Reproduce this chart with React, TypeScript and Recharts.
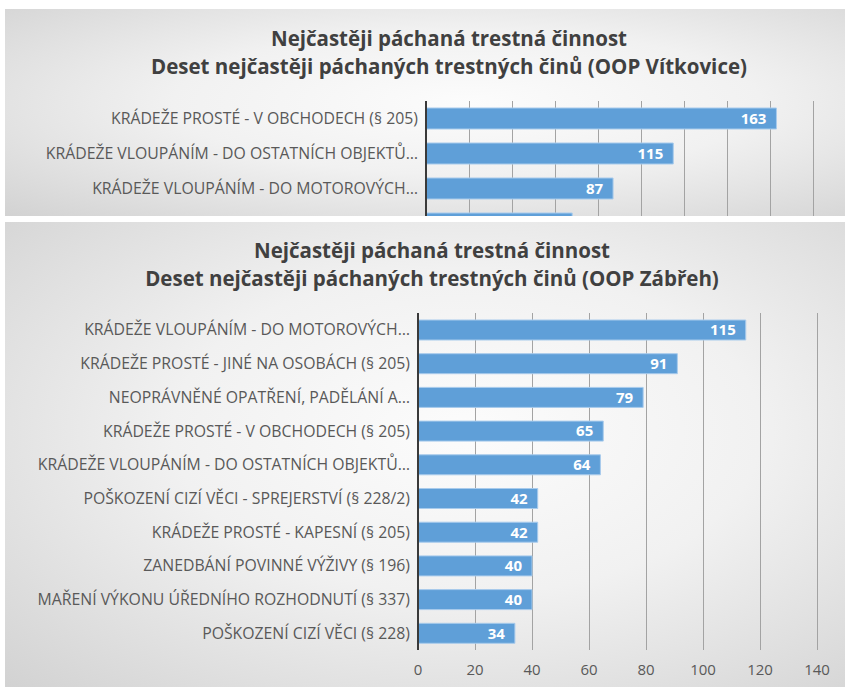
import { BarChart, Bar, XAxis, YAxis, CartesianGrid, LabelList } from 'recharts';

// OOP Vítkovice (panel is cut off after the 4th bar)
const vitkoviceCategories = [
    'KRÁDEŽE PROSTÉ - V OBCHODECH (§ 205)',
    'KRÁDEŽE VLOUPÁNÍM - DO OSTATNÍCH OBJEKTŮ…',
    'KRÁDEŽE VLOUPÁNÍM - DO MOTOROVÝCH…',
    '',
];
const vitkoviceValues = [163, 115, 87, 68];
const vitkoviceTicks = [0, 20, 40, 60, 80, 100, 120, 140, 160, 180];

// OOP Zábřeh
const zabrehCategories = [
    'KRÁDEŽE VLOUPÁNÍM - DO MOTOROVÝCH…',
    'KRÁDEŽE PROSTÉ - JINÉ NA OSOBÁCH (§ 205)',
    'NEOPRÁVNĚNÉ OPATŘENÍ, PADĚLÁNÍ A…',
    'KRÁDEŽE PROSTÉ - V OBCHODECH (§ 205)',
    'KRÁDEŽE VLOUPÁNÍM - DO OSTATNÍCH OBJEKTŮ…',
    'POŠKOZENÍ CIZÍ VĚCI - SPREJERSTVÍ (§ 228/2)',
    'KRÁDEŽE PROSTÉ - KAPESNÍ (§ 205)',
    'ZANEDBÁNÍ POVINNÉ VÝŽIVY (§ 196)',
    'MAŘENÍ VÝKONU ÚŘEDNÍHO ROZHODNUTÍ (§ 337)',
    'POŠKOZENÍ CIZÍ VĚCI (§ 228)',
];
const zabrehValues = [115, 91, 79, 65, 64, 42, 42, 40, 40, 34];
const zabrehTicks = [0, 20, 40, 60, 80, 100, 120, 140];

const FONT = "'Open Sans', sans-serif";
const BAR_FILL = '#5f9fd8';
const GRID = '#a3a3a3';

const panelStyle = {
    position: 'absolute' as const,
    left: 5,
    width: 840,
    overflow: 'hidden',
    background: 'radial-gradient(ellipse farthest-corner at 55% 45%, #fcfcfc 0%, #f1f1f1 45%, #d2d2d2 100%)',
};

function Title({ text, cx, cy }: { text: string, cx: number, cy: number }) {
    return (
        <div style={{
            position: 'absolute', left: cx, top: cy - 13, transform: 'translateX(-50%)',
            whiteSpace: 'nowrap', fontFamily: FONT, fontWeight: 700, fontSize: 20.5,
            lineHeight: '26px', color: '#404040',
        }}>{text}</div>
    );
}

export default function App() {
    const vitData = vitkoviceCategories.map((name, i) => ({ name, value: vitkoviceValues[i] }));
    const zabData = zabrehCategories.map((name, i) => ({ name, value: zabrehValues[i] }));

    const tickStyle = { fill: '#595959', fontSize: 15.8, fontFamily: FONT };
    const valueStyle = { fontWeight: 700, fontSize: 15, fontFamily: FONT };

    return (
        <div style={{ position: 'absolute', left: 0, top: 0, width: 845, height: 687, background: '#fff' }}>
            {/* top panel - Vítkovice, cropped */}
            <div style={{ ...panelStyle, top: 9, height: 207 }}>
                <Title text="Nejčastěji páchaná trestná činnost" cx={444} cy={29} />
                <Title text="Deset nejčastěji páchaných trestných činů (OOP Vítkovice)" cx={444} cy={57} />
                <BarChart
                    width={840}
                    height={262}
                    layout="vertical"
                    data={vitData}
                    margin={{ top: 92, right: 32, bottom: 0, left: 0 }}
                    style={{ position: 'absolute', left: 0, top: 0 }}
                >
                    {/* plot width 387 -> whole-pixel grid steps, so the lines stay crisp */}
                    <CartesianGrid horizontal={false} stroke={GRID} shapeRendering="crispEdges" />
                    <XAxis type="number" domain={[0, 180]} ticks={vitkoviceTicks} interval={0} axisLine={false} tickLine={false}
                        tick={() => <g />} height={30} />
                    <YAxis type="category" dataKey="name" width={421} tickLine={false}
                        axisLine={{ stroke: '#3a3a3a', strokeWidth: 2 }} tick={tickStyle} />
                    <Bar dataKey="value" barSize={21} fill={BAR_FILL} stroke="#a8cbec" strokeWidth={1} isAnimationActive={false}>
                        <LabelList dataKey="value" position="insideRight" offset={10} fill="#fff" style={valueStyle} />
                    </Bar>
                </BarChart>
            </div>

            {/* bottom panel - Zábřeh */}
            <div style={{ ...panelStyle, top: 222, height: 465 }}>
                <Title text="Nejčastěji páchaná trestná činnost" cx={427} cy={28} />
                <Title text="Deset nejčastěji páchaných trestných činů (OOP Zábřeh)" cx={427} cy={56} />
                <BarChart
                    width={840}
                    height={465}
                    layout="vertical"
                    data={zabData}
                    margin={{ top: 91, right: 28, bottom: 0, left: 0 }}
                    style={{ position: 'absolute', left: 0, top: 0 }}
                >
                    <CartesianGrid horizontal={false} stroke={GRID} shapeRendering="crispEdges" />
                    <XAxis type="number" domain={[0, 140]} ticks={zabrehTicks} axisLine={false} tickLine={false}
                        tick={{ ...tickStyle, fontSize: 15 }} tickMargin={8} height={37} />
                    <YAxis type="category" dataKey="name" width={413} tickLine={false}
                        axisLine={{ stroke: '#3a3a3a', strokeWidth: 2 }} tick={tickStyle} />
                    <Bar dataKey="value" barSize={20} fill={BAR_FILL} stroke="#a8cbec" strokeWidth={1} isAnimationActive={false}>
                        <LabelList dataKey="value" position="insideRight" offset={10} fill="#fff" style={valueStyle} />
                    </Bar>
                </BarChart>
            </div>
        </div>
    );
}
